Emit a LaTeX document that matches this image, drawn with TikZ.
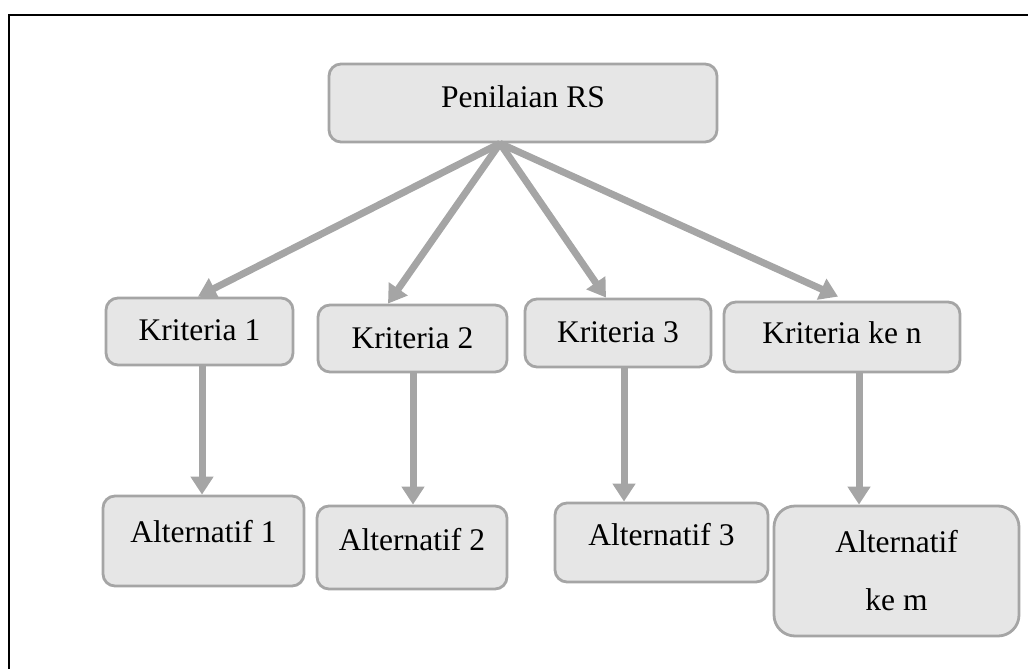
\documentclass[tikz,border=0pt]{standalone}
\usepackage{fontspec}
\setmainfont{Liberation Serif}
\usetikzlibrary{arrows.meta,calc}
\definecolor{edgegray}{HTML}{A5A5A5}
\definecolor{boxfill}{HTML}{E6E6E6}
\begin{document}
\begin{tikzpicture}[x=1pt,y=-1pt,
  box/.style={draw=edgegray, fill=boxfill, line width=2.8pt, rounded corners=12pt,
    inner sep=0pt, text depth=8pt, font=\fontsize{31.5}{58}\selectfont},
  arr/.style={draw=edgegray, line width=7pt, -{Triangle[length=18pt,width=22pt]}},
  frame/.style={line width=2.2pt, black}]
\useasboundingbox (0,0) rectangle (1028,669);
\coordinate (fa) at (9,669);
\coordinate (fb) at (9,15);
\coordinate (fc) at (1028,15);
\draw[frame] (fa) -- (fb) -- (fc);

\node[box, minimum width=388pt, minimum height=78pt, text height=17pt] (top) at (523,103) {Penilaian RS};
\node[box, minimum width=187pt, minimum height=67pt, text height=26pt] (k1) at (199.5,331.5) {Kriteria 1};
\node[box, minimum width=189pt, minimum height=67pt, text height=28pt] (k2) at (412.5,338.5) {Kriteria 2};
\node[box, minimum width=186pt, minimum height=68pt, text height=27pt] (k3) at (618,333) {Kriteria 3};
\node[box, minimum width=236pt, minimum height=70pt, text height=21pt] (kn) at (842,337) {Kriteria ke n};
\node[box, minimum width=201pt, minimum height=90pt, text height=11pt] (a1) at (203.5,541) {Alternatif 1};
\node[box, minimum width=190pt, minimum height=83pt, text height=14pt] (a2) at (412,547.5) {Alternatif 2};
\node[box, minimum width=213pt, minimum height=79pt, text height=14pt] (a3) at (661.5,542.5) {Alternatif 3};
\node[box, minimum width=245pt, minimum height=130pt, rounded corners=21pt, align=center,
  text height=, text depth=] (am) at (896.5,571) {Alternatif\\ke m};

\coordinate (apex) at ($(top.south)+(-23,0)$);
\draw[arr] (apex) -- ($(k1.north)+(-1.5,0)$);
\draw[arr] (apex) -- ($(k2.north)+(-24.5,0)$);
\draw[arr] (apex) -- ($(k3.north)+(-12,0)$);
\draw[arr] (apex) -- ($(kn.north)+(-4,-4)$);

\draw[arr] ($(k1.south)+(2.5,0)$) -- ($(a1.north)+(-1.5,0)$);
\draw[arr] ($(k2.south)+(0.5,0)$) -- ($(a2.north)+(1,0)$);
\draw[arr] ($(k3.south)+(6,0)$) -- ($(a3.north)+(-37.5,0)$);
\draw[arr] ($(kn.south)+(17,0)$) -- ($(am.north)+(-37.5,0)$);
\end{tikzpicture}
\end{document}
